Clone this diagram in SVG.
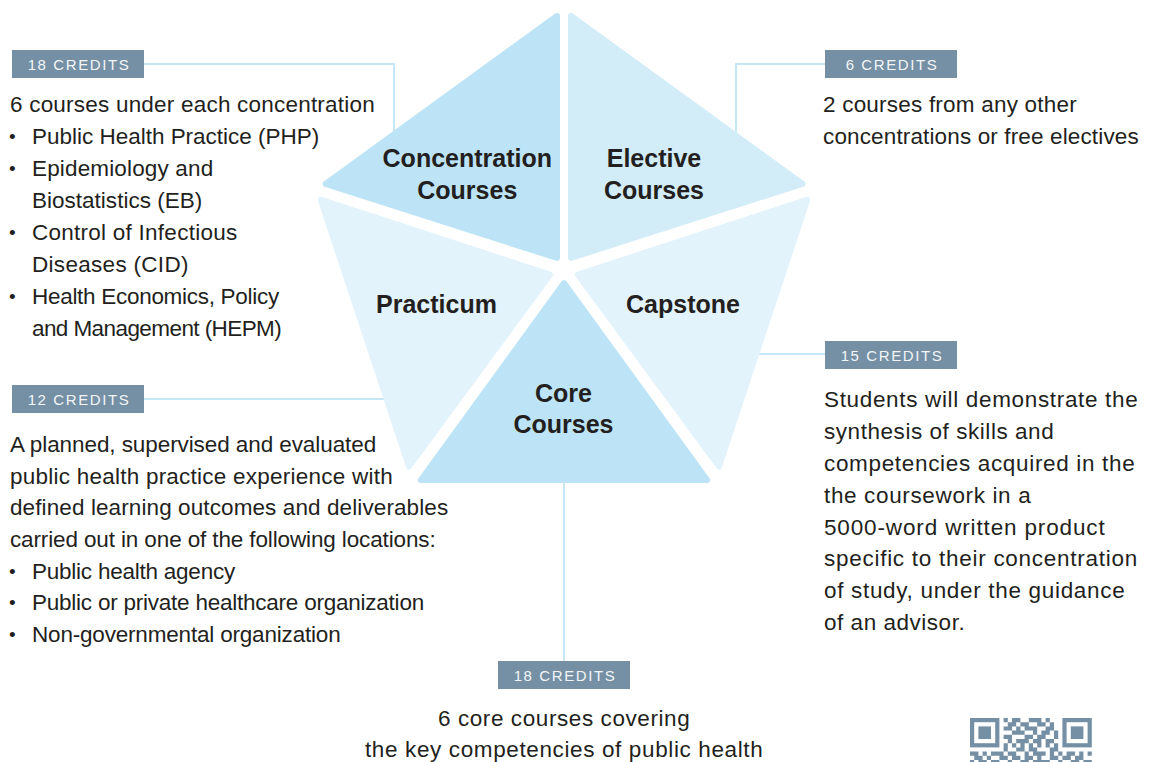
<svg xmlns="http://www.w3.org/2000/svg" width="1158" height="762" viewBox="0 0 1158 762">
<style>
.bg{fill:#ffffff}
.piece{stroke-width:6;stroke-linejoin:round}
.c1{fill:#bde4f6;stroke:#bde4f6}
.c2{fill:#d2ecf8;stroke:#d2ecf8}
.c3{fill:#e3f3fb;stroke:#e3f3fb}
.lbl{font-family:"Liberation Sans",Arial,sans-serif;font-size:25px;font-weight:bold;fill:#231f20;text-anchor:middle}
.body{font-family:"Liberation Sans",Arial,sans-serif;font-size:22.5px;fill:#231f20;letter-spacing:0.3px}
.mid{text-anchor:middle}
.box{fill:#7590a5}
.cr{font-family:"Liberation Sans",Arial,sans-serif;font-size:15px;fill:#f2f5f8;letter-spacing:1.6px;text-anchor:middle}
.conn{fill:none;stroke:#c6e7f6;stroke-width:2}
.qr{fill:#7590a5}
.bul{font-family:"Liberation Sans",Arial,sans-serif;font-size:19px;fill:#231f20}
</style>
<rect class="bg" x="0" y="0" width="1158" height="762"/>
<g id="connectors">
<path class="conn" d="M144 64H394V136"/>
<path class="conn" d="M826 64H736V136"/>
<path class="conn" d="M826 354H750"/>
<path class="conn" d="M144 399H392"/>
<path class="conn" d="M564 470V661"/>
</g>
<g id="node-concentration">
<polygon class="piece c1" points="557,15.9 325.6,183.9 557,257.9"/>
<text class="lbl" x="467.3" y="167">Concentration</text>
<text class="lbl" x="467.3" y="198.5">Courses</text>
</g>
<g id="node-elective">
<polygon class="piece c2" points="571,15.9 802.4,183.9 571,257.9"/>
<text class="lbl" x="654" y="167">Elective</text>
<text class="lbl" x="654" y="198.5">Courses</text>
</g>
<g id="node-practicum">
<polygon class="piece c3" points="320.7,199.7 550.1,274.6 409,466.5"/>
<text class="lbl" x="436.5" y="313">Practicum</text>
</g>
<g id="node-capstone">
<polygon class="piece c3" points="807.3,199.7 577.9,274.6 719,466.5"/>
<text class="lbl" x="683" y="313">Capstone</text>
</g>
<g id="node-core">
<polygon class="piece c1" points="564,283.1 420.9,480 707.1,480"/>
<text class="lbl" x="563.5" y="402">Core</text>
<text class="lbl" x="563.5" y="433">Courses</text>
</g>
<g id="info-concentration">
<rect class="box" x="12" y="50" width="132" height="28"/>
<text class="cr" x="79" y="69.5">18 CREDITS</text>
<text class="body" x="10" y="112" textLength="365" lengthAdjust="spacing">6 courses under each concentration</text>
<text class="bul" x="9" y="143">•</text>
<text class="body" x="32" y="144" textLength="287.5" lengthAdjust="spacing">Public Health Practice (PHP)</text>
<text class="bul" x="9" y="175">•</text>
<text class="body" x="32" y="176" textLength="181.5" lengthAdjust="spacing">Epidemiology and</text>
<text class="body" x="32" y="208" textLength="170.5" lengthAdjust="spacing">Biostatistics (EB)</text>
<text class="bul" x="9" y="239">•</text>
<text class="body" x="32" y="240" textLength="205.5" lengthAdjust="spacing">Control of Infectious</text>
<text class="body" x="32" y="272">Diseases (CID)</text>
<text class="bul" x="9" y="303">•</text>
<text class="body" x="32" y="304" textLength="247.5" lengthAdjust="spacing">Health Economics, Policy</text>
<text class="body" x="32" y="336" textLength="250" lengthAdjust="spacing">and Management (HEPM)</text>
</g>
<g id="info-elective">
<rect class="box" x="825" y="50" width="132" height="28"/>
<text class="cr" x="892" y="69.5">6 CREDITS</text>
<text class="body" x="823" y="112" textLength="254" lengthAdjust="spacing">2 courses from any other</text>
<text class="body" x="823" y="144" textLength="316" lengthAdjust="spacing">concentrations or free electives</text>
</g>
<g id="info-capstone">
<rect class="box" x="825" y="341" width="132" height="28"/>
<text class="cr" x="892" y="360.5">15 CREDITS</text>
<text class="body" x="824" y="407" textLength="314" lengthAdjust="spacing">Students will demonstrate the</text>
<text class="body" x="824" y="439" textLength="230" lengthAdjust="spacing">synthesis of skills and</text>
<text class="body" x="824" y="471" textLength="311" lengthAdjust="spacing">competencies acquired in the</text>
<text class="body" x="824" y="503" textLength="207" lengthAdjust="spacing">the coursework in a</text>
<text class="body" x="824" y="535" textLength="281" lengthAdjust="spacing">5000-word written product</text>
<text class="body" x="824" y="566" textLength="313.5" lengthAdjust="spacing">specific to their concentration</text>
<text class="body" x="824" y="598" textLength="301" lengthAdjust="spacing">of study, under the guidance</text>
<text class="body" x="824" y="630" textLength="141" lengthAdjust="spacing">of an advisor.</text>
</g>
<g id="info-practicum">
<rect class="box" x="12" y="385" width="132" height="28"/>
<text class="cr" x="79" y="404.5">12 CREDITS</text>
<text class="body" x="10" y="452" textLength="366.5" lengthAdjust="spacing">A planned, supervised and evaluated</text>
<text class="body" x="10" y="484" textLength="383" lengthAdjust="spacing">public health practice experience with</text>
<text class="body" x="10" y="515" textLength="438.5" lengthAdjust="spacing">defined learning outcomes and deliverables</text>
<text class="body" x="10" y="547" textLength="426" lengthAdjust="spacing">carried out in one of the following locations:</text>
<text class="bul" x="9" y="578">•</text>
<text class="body" x="32" y="579" textLength="203.5" lengthAdjust="spacing">Public health agency</text>
<text class="bul" x="9" y="609">•</text>
<text class="body" x="32" y="610" textLength="392.5" lengthAdjust="spacing">Public or private healthcare organization</text>
<text class="bul" x="9" y="641">•</text>
<text class="body" x="32" y="642" textLength="309" lengthAdjust="spacing">Non-governmental organization</text>
</g>
<g id="info-core">
<rect class="box" x="498" y="661" width="132" height="28"/>
<text class="cr" x="565" y="680.5">18 CREDITS</text>
<text class="body mid" x="564" y="726" textLength="252" lengthAdjust="spacing">6 core courses covering</text>
<text class="body mid" x="564" y="757" textLength="398" lengthAdjust="spacing">the key competencies of public health</text>
</g>
<g id="qr-code">
<rect class="qr" x="970" y="718" width="29.4" height="29.4"/>
<rect fill="#ffffff" x="974.2" y="722.2" width="21" height="21"/>
<rect class="qr" x="978.4" y="726.4" width="12.6" height="12.6"/>
<rect class="qr" x="1062.4" y="718" width="29.4" height="29.4"/>
<rect fill="#ffffff" x="1066.6" y="722.2" width="21" height="21"/>
<rect class="qr" x="1070.8" y="726.4" width="12.6" height="12.6"/>
<path class="qr" d="M1003.6 718h4.2v4.2h-4.2zM1012 718h8.4v4.2h-8.4zM1028.8 718h12.6v4.2h-12.6zM1045.6 718h4.2v4.2h-4.2z
M1007.8 722.2h8.4v4.2h-8.4zM1020.4 722.2h8.4v4.2h-8.4zM1037.2 722.2h8.4v4.2h-8.4zM1049.8 722.2h4.2v4.2h-4.2z
M1003.6 726.4h8.4v4.2h-8.4zM1016.2 726.4h4.2v4.2h-4.2zM1024.6 726.4h12.6v4.2h-12.6zM1045.6 726.4h8.4v4.2h-8.4z
M1012 730.6h12.6v4.2h-12.6zM1033 730.6h4.2v4.2h-4.2zM1041.4 730.6h8.4v4.2h-8.4zM1054 730.6h4.2v4.2h-4.2z
M1003.6 734.8h8.4v4.2h-8.4zM1024.6 734.8h8.4v4.2h-8.4zM1037.2 734.8h8.4v4.2h-8.4zM1054 734.8h4.2v4.2h-4.2z
M1007.8 739h4.2v4.2h-4.2zM1016.2 739h12.6v4.2h-12.6zM1033 739h8.4v4.2h-8.4zM1045.6 739h8.4v4.2h-8.4z
M1003.6 743.2h4.2v4.2h-4.2zM1012 743.2h4.2v4.2h-4.2zM1020.4 743.2h4.2v4.2h-4.2zM1028.8 743.2h4.2v4.2h-4.2zM1037.2 743.2h4.2v4.2h-4.2zM1045.6 743.2h4.2v4.2h-4.2zM1054 743.2h4.2v4.2h-4.2z
M1003.6 747.4h4.2v4.2h-4.2zM1016.2 747.4h8.4v4.2h-8.4zM1028.8 747.4h8.4v4.2h-8.4zM1049.8 747.4h8.4v4.2h-8.4z
M970 751.6h8.4v4.2h-8.4zM982.6 751.6h4.2v4.2h-4.2zM991 751.6h12.6v4.2h-12.6zM1007.8 751.6h8.4v4.2h-8.4zM1024.6 751.6h4.2v4.2h-4.2zM1033 751.6h12.6v4.2h-12.6zM1049.8 751.6h4.2v4.2h-4.2zM1058.2 751.6h4.2v4.2h-4.2zM1066.6 751.6h8.4v4.2h-8.4zM1079.2 751.6h4.2v4.2h-4.2zM1087.6 751.6h4.2v4.2h-4.2z
M974.2 755.8h8.4v4.2h-8.4zM986.8 755.8h4.2v4.2h-4.2zM999.4 755.8h8.4v4.2h-8.4zM1012 755.8h8.4v4.2h-8.4zM1024.6 755.8h8.4v4.2h-8.4zM1037.2 755.8h4.2v4.2h-4.2zM1049.8 755.8h8.4v4.2h-8.4zM1062.4 755.8h8.4v4.2h-8.4zM1075 755.8h8.4v4.2h-8.4z
M970 760h4.2v4.2h-4.2zM978.4 760h8.4v4.2h-8.4zM991 760h8.4v4.2h-8.4zM1007.8 760h4.2v4.2h-4.2zM1020.4 760h8.4v4.2h-8.4zM1033 760h16.8v4.2h-16.8zM1058.2 760h4.2v4.2h-4.2zM1070.8 760h8.4v4.2h-8.4zM1083.4 760h8.4v4.2h-8.4z"/>
</g>
</svg>
